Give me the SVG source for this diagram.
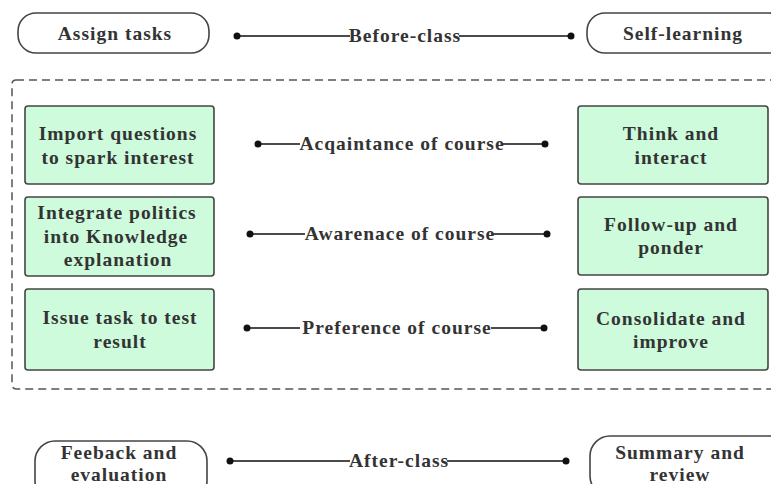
<svg xmlns="http://www.w3.org/2000/svg" width="771" height="484" viewBox="0 0 771 484">
<style>
.t{font-family:"Liberation Serif","Times New Roman",serif;font-weight:bold;font-size:19.5px;fill:#333;text-anchor:middle;letter-spacing:1px}
.pill{fill:#fff;stroke:#444;stroke-width:1.6}
.box{fill:#cdfbdc;stroke:#444;stroke-width:1.6}
.ln{stroke:#111;stroke-width:1.6;fill:none}
.dot{fill:#111}
</style>
<rect x="12" y="80" width="770" height="309" rx="4" fill="none" stroke="#555" stroke-width="1.5" stroke-dasharray="8 5"/>
<g id="assign"><rect class="pill" x="18" y="13" width="191" height="40" rx="18"/><text class="t" x="115" y="40">Assign tasks</text></g>
<g id="self"><rect class="pill" x="587" y="13" width="200" height="40" rx="18"/><text class="t" x="683" y="40">Self-learning</text></g>
<g id="import"><rect class="box" x="25" y="106" width="189" height="78" rx="3"/><text class="t" x="118" y="140">Import questions</text><text class="t" x="118" y="164">to spark interest</text></g>
<g id="integrate"><rect class="box" x="25" y="197" width="189" height="79" rx="3"/><text class="t" x="117" y="219">Integrate politics</text><text class="t" x="116" y="243">into Knowledge</text><text class="t" x="118" y="266">explanation</text></g>
<g id="issue"><rect class="box" x="25" y="289" width="189" height="81" rx="3"/><text class="t" x="120" y="324">Issue task to test</text><text class="t" x="120" y="348">result</text></g>
<g id="think"><rect class="box" x="578" y="106" width="190" height="78" rx="3"/><text class="t" x="671" y="140">Think and</text><text class="t" x="671" y="164">interact</text></g>
<g id="follow"><rect class="box" x="578" y="197" width="190" height="78" rx="3"/><text class="t" x="671" y="231">Follow-up and</text><text class="t" x="671" y="254">ponder</text></g>
<g id="consolidate"><rect class="box" x="578" y="289" width="190" height="81" rx="3"/><text class="t" x="671" y="325">Consolidate and</text><text class="t" x="671" y="348">improve</text></g>
<g id="feeback"><rect class="pill" x="35" y="441" width="172" height="60" rx="20"/><text class="t" x="119" y="459">Feeback and</text><text class="t" x="119" y="481">evaluation</text></g>
<g id="summary"><rect class="pill" x="590" y="436" width="200" height="60" rx="20"/><text class="t" x="680" y="459">Summary and</text><text class="t" x="680" y="481">review</text></g>
<g id="connectors">
<circle class="dot" cx="237" cy="36" r="3.5"/><path class="ln" d="M237 36H350M459 36H571"/><circle class="dot" cx="571" cy="36" r="3.5"/>
<text class="t" x="405" y="42">Before-class</text>
<circle class="dot" cx="258" cy="144" r="3.5"/><path class="ln" d="M258 144H300M502 144H545"/><circle class="dot" cx="545" cy="144" r="3.5"/>
<text class="t" x="402" y="150">Acqaintance of course</text>
<circle class="dot" cx="250" cy="234" r="3.5"/><path class="ln" d="M250 234H305M493 234H547"/><circle class="dot" cx="547" cy="234" r="3.5"/>
<text class="t" x="400" y="240">Awarenace of course</text>
<circle class="dot" cx="247" cy="328" r="3.5"/><path class="ln" d="M247 328H300M491 328H544"/><circle class="dot" cx="544" cy="328" r="3.5"/>
<text class="t" x="397" y="334">Preference of course</text>
<circle class="dot" cx="230" cy="461" r="3.5"/><path class="ln" d="M230 461H350M447 461H566"/><circle class="dot" cx="566" cy="461" r="3.5"/>
<text class="t" x="399" y="467">After-class</text>
</g>
</svg>
